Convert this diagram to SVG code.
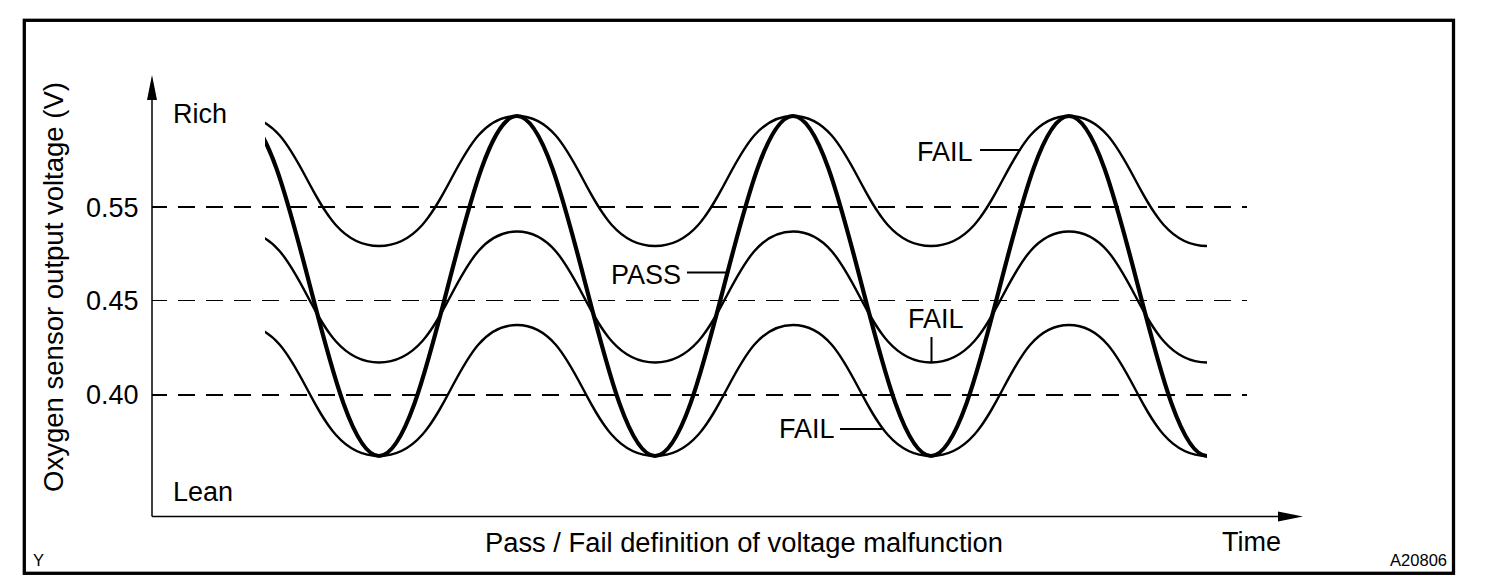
<svg xmlns="http://www.w3.org/2000/svg" width="1504" height="588" viewBox="0 0 1504 588">
<style>
text{font-family:"Liberation Sans",Arial,sans-serif;fill:#000}
.lbl{font-size:27px}
.sm{font-size:16.5px}
.dash{stroke:#000;fill:none;stroke-dasharray:17 11;stroke-dashoffset:2;shape-rendering:crispEdges}
.thin{fill:none;stroke:#000;stroke-width:2.4}
.thick{fill:none;stroke:#000;stroke-width:4.2}
.lead{stroke:#000;stroke-width:2;fill:none}
.ax{stroke:#000;stroke-width:1.5;fill:none}
</style>
<defs>
<clipPath id="plotclip"><rect x="265" y="0" width="1000" height="588"/></clipPath>
</defs>
<rect width="1504" height="588" fill="#fff"/>
<g id="frame"><rect x="24.3" y="20.3" width="1429.2" height="553" fill="none" stroke="#000" stroke-width="3.3"/></g>
<g id="axes">
<line class="ax" x1="152" y1="516.5" x2="152" y2="98"/>
<polygon points="152,75 147,100 157,100" fill="#000"/>
<line class="ax" x1="152" y1="516.5" x2="1280" y2="516.5"/>
<polygon points="1303,516.5 1278,511.5 1278,521.5" fill="#000"/>
</g>
<g id="gridlines">
<line class="dash" x1="152" y1="207" x2="1247" y2="207" stroke-width="2"/>
<line class="dash" x1="152" y1="300" x2="1247" y2="300" stroke-width="1"/>
<line class="dash" x1="152" y1="395" x2="1247" y2="395" stroke-width="2"/>
</g>
<g id="axis-labels">
<text class="lbl" x="173" y="123">Rich</text>
<text class="lbl" x="173" y="501">Lean</text>
<text class="lbl" x="138.5" y="216.5" text-anchor="end">0.55</text>
<text class="lbl" x="138.5" y="310" text-anchor="end">0.45</text>
<text class="lbl" x="138.5" y="403.5" text-anchor="end">0.40</text>
<text class="lbl" transform="translate(63,287) rotate(-90)" text-anchor="middle" textLength="410" lengthAdjust="spacingAndGlyphs">Oxygen sensor output voltage (V)</text>
<text class="lbl" x="744" y="552" text-anchor="middle" textLength="518" lengthAdjust="spacingAndGlyphs">Pass / Fail definition of voltage malfunction</text>
<text class="lbl" x="1222" y="551">Time</text>
<text class="sm" x="33" y="566">Y</text>
<text class="sm" x="1447" y="566" text-anchor="end">A20806</text>
</g>
<g id="curves" clip-path="url(#plotclip)">
<path id="fail-upper" class="thin" d="M241,116 C307.2,116 307.2,246 379,246 S450.8,116 517,116 S583.2,246 655,246 S726.8,116 793,116 S859.2,246 931,246 S1002.8,116 1069,116 S1135.2,246 1207,246"/>
<path id="fail-middle" class="thin" d="M241,231.5 C307.2,231.5 307.2,362.5 379,362.5 S450.8,231.5 517,231.5 S583.2,362.5 655,362.5 S726.8,231.5 793,231.5 S859.2,362.5 931,362.5 S1002.8,231.5 1069,231.5 S1135.2,362.5 1207,362.5"/>
<path id="fail-lower" class="thin" d="M241,325 C307.2,325 307.2,456 379,456 S450.8,325 517,325 S583.2,456 655,456 S726.8,325 793,325 S859.2,456 931,456 S1002.8,325 1069,325 S1135.2,456 1207,456"/>
<path id="pass" class="thick" d="M241,116 C265.97,116 287.5,198.9 310,286 S354.03,456 379,456 S425.5,373.1 448,286 S492.03,116 517,116 S563.5,198.9 586,286 S630.03,456 655,456 S701.5,373.1 724,286 S768.03,116 793,116 S839.5,198.9 862,286 S906.03,456 931,456 S977.5,373.1 1000,286 S1044.03,116 1069,116 S1115.5,198.9 1138,286 S1182.03,456 1207,456"/>
</g>
<g id="connectors">
<line class="lead" x1="687" y1="272.5" x2="727" y2="272.5"/>
<line class="lead" x1="980" y1="150" x2="1021" y2="150"/>
<line class="lead" x1="931.5" y1="337" x2="931.5" y2="362"/>
<line class="lead" x1="840" y1="429" x2="882" y2="429"/>
</g>
<g id="label-pass"><text class="lbl" x="611" y="284">PASS</text></g>
<g id="label-fail-upper"><text class="lbl" x="917" y="161">FAIL</text></g>
<g id="label-fail-middle"><text class="lbl" x="908" y="328">FAIL</text></g>
<g id="label-fail-lower"><text class="lbl" x="779" y="438">FAIL</text></g>
</svg>
